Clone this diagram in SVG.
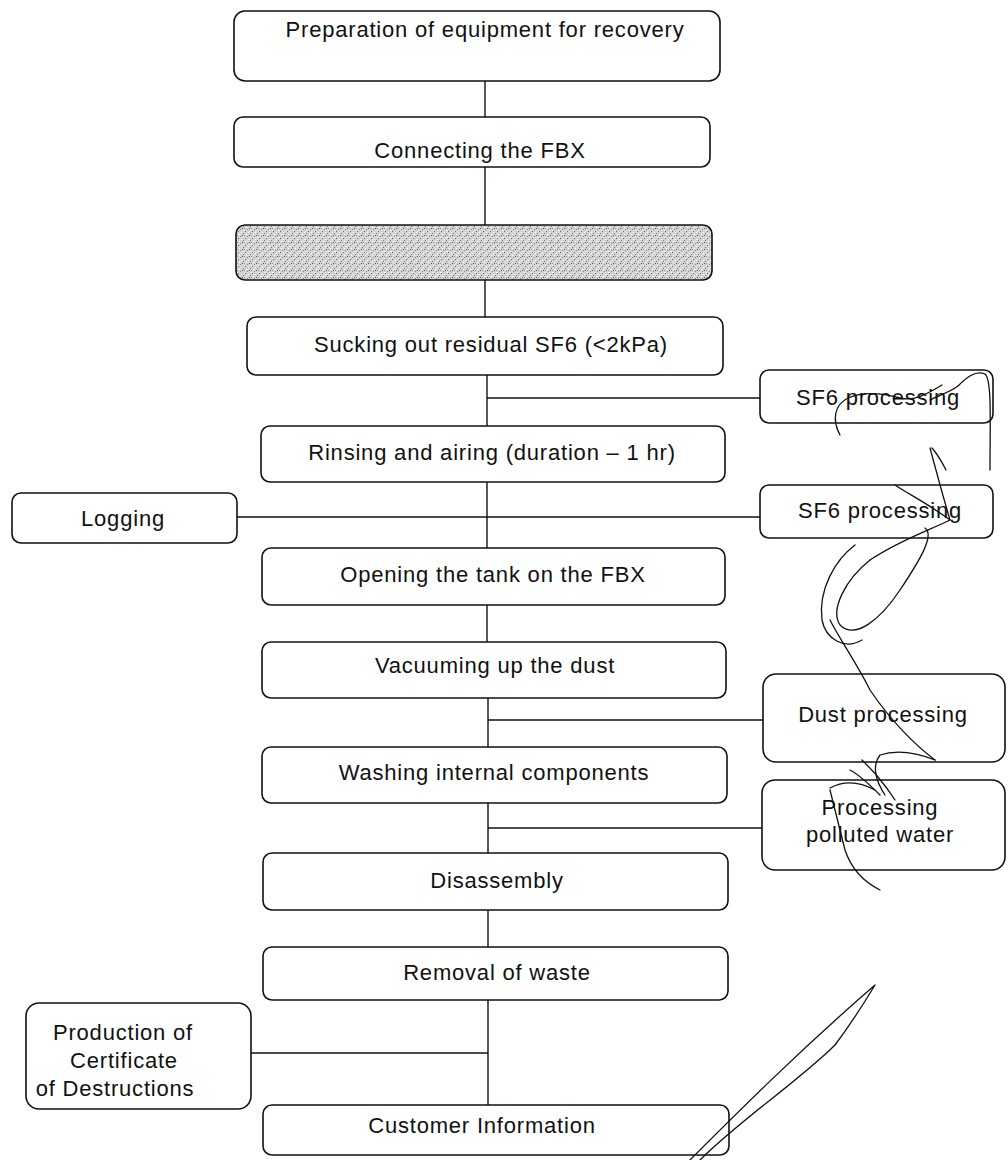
<svg xmlns="http://www.w3.org/2000/svg" width="1008" height="1160" viewBox="0 0 1008 1160">
<style>
.box{fill:#fff;stroke:#111;stroke-width:1.6}
.lbl{font-family:"Liberation Sans",Arial,sans-serif;font-size:22px;letter-spacing:0.8px;fill:#111;text-anchor:middle}
.conn line{stroke:#111;stroke-width:1.4}
.hw{fill:none;stroke:#111;stroke-width:1.3;stroke-linecap:round;stroke-linejoin:round}
</style>
<defs>
<pattern id="speck" width="7" height="7" patternUnits="userSpaceOnUse">
<rect width="7" height="7" fill="#d4d4d4"/>
<rect x="0" y="0" width="1" height="1" fill="#666"/>
<rect x="3" y="1" width="1" height="1" fill="#fff"/>
<rect x="5" y="2" width="1" height="1" fill="#777"/>
<rect x="1" y="3" width="1" height="1" fill="#fff"/>
<rect x="4" y="4" width="1" height="1" fill="#555"/>
<rect x="2" y="5" width="1" height="1" fill="#888"/>
<rect x="6" y="6" width="1" height="1" fill="#fff"/>
<rect x="6" y="4" width="1" height="1" fill="#999"/>
</pattern>
</defs>
<rect width="1008" height="1160" fill="#fff"/>

<g class="conn" id="connectors">
<line x1="485" y1="80" x2="485" y2="117"/>
<line x1="485" y1="167" x2="485" y2="225"/>
<line x1="485" y1="280" x2="485" y2="317"/>
<line x1="487" y1="375" x2="487" y2="426"/>
<line x1="487" y1="482" x2="487" y2="548"/>
<line x1="487" y1="605" x2="487" y2="642"/>
<line x1="488" y1="698" x2="488" y2="747"/>
<line x1="488" y1="803" x2="488" y2="853"/>
<line x1="488" y1="910" x2="488" y2="947"/>
<line x1="488" y1="1000" x2="488" y2="1105"/>
<line x1="487" y1="398" x2="760" y2="398"/>
<line x1="237" y1="517" x2="760" y2="517"/>
<line x1="488" y1="720" x2="763" y2="720"/>
<line x1="488" y1="828" x2="762" y2="828"/>
<line x1="251" y1="1053" x2="488" y2="1053"/>
</g>

<g id="n1"><rect class="box" x="234" y="11" width="486" height="70" rx="11"/><text class="lbl" x="485" y="37">Preparation of equipment for recovery</text></g>
<g id="n2"><rect class="box" x="234" y="117" width="476" height="50" rx="9"/><text class="lbl" x="480" y="158">Connecting the FBX</text></g>
<g id="n3"><rect x="236" y="225" width="476" height="55" rx="9" fill="url(#speck)" stroke="#111" stroke-width="1.6"/></g>
<g id="n4"><rect class="box" x="247" y="317" width="476" height="58" rx="9"/><text class="lbl" x="491" y="352">Sucking out residual SF6 (&lt;2kPa)</text></g>
<g id="n5"><rect class="box" x="261" y="426" width="464" height="56" rx="9"/><text class="lbl" x="492" y="460">Rinsing and airing (duration – 1 hr)</text></g>
<g id="n6"><rect class="box" x="262" y="548" width="463" height="57" rx="9"/><text class="lbl" x="493" y="582">Opening the tank on the FBX</text></g>
<g id="n7"><rect class="box" x="262" y="642" width="464" height="56" rx="9"/><text class="lbl" x="495" y="673">Vacuuming up the dust</text></g>
<g id="n8"><rect class="box" x="262" y="747" width="465" height="56" rx="9"/><text class="lbl" x="494" y="780">Washing internal components</text></g>
<g id="n9"><rect class="box" x="263" y="853" width="465" height="57" rx="9"/><text class="lbl" x="497" y="888">Disassembly</text></g>
<g id="n10"><rect class="box" x="263" y="947" width="465" height="53" rx="9"/><text class="lbl" x="497" y="980">Removal of waste</text></g>
<g id="n11"><rect class="box" x="263" y="1105" width="466" height="50" rx="9"/><text class="lbl" x="482" y="1133">Customer Information</text></g>

<g id="n12"><rect class="box" x="12" y="493" width="225" height="50" rx="9"/><text class="lbl" x="123" y="526">Logging</text></g>
<g id="n13"><rect class="box" x="760" y="370" width="233" height="53" rx="9"/><text class="lbl" x="878" y="405">SF6 processing</text></g>
<g id="n14"><rect class="box" x="760" y="485" width="233" height="53" rx="9"/><text class="lbl" x="880" y="518">SF6 processing</text></g>
<g id="n15"><rect class="box" x="763" y="674" width="242" height="88" rx="13"/><text class="lbl" x="883" y="722">Dust processing</text></g>
<g id="n16"><rect class="box" x="762" y="780" width="243" height="90" rx="13"/><text class="lbl" x="880" y="815">Processing</text><text class="lbl" x="880" y="842">polluted water</text></g>
<g id="n17"><rect class="box" x="26" y="1003" width="225" height="106" rx="13"/><text class="lbl" x="123" y="1040">Production of</text><text class="lbl" x="124" y="1068">Certificate</text><text class="lbl" x="115" y="1096">of Destructions</text></g>

<g id="handwriting" class="hw">
<path d="M840 435 C832 420 834 405 848 398 C862 392 878 392 900 398 C915 402 930 392 942 385"/>
<path d="M930 400 C940 395 950 392 958 386 C966 378 975 370 985 374 C992 380 990 420 990 470"/>
<path d="M932 448 C938 455 942 462 946 470 M930 448 C936 470 944 500 950 520"/>
<path d="M895 485 C910 495 930 505 950 520 C930 530 900 540 870 560"/>
<path d="M870 560 C845 580 830 610 840 625 C855 640 880 620 900 590 C920 560 935 535 925 528"/>
<path d="M855 545 C835 560 818 590 822 620 C826 640 845 650 862 640"/>
<path d="M830 620 C840 640 855 660 870 690 C890 720 915 745 935 760"/>
<path d="M935 760 C915 752 895 750 880 755 C872 765 875 780 885 795"/>
<path d="M862 760 C872 770 882 780 895 800 M850 770 C860 775 870 785 880 795"/>
<path d="M830 790 C835 810 840 830 845 850 C850 865 860 880 880 890"/>
<path d="M830 788 C845 780 860 782 875 790"/>
<path d="M690 1160 C740 1110 800 1050 875 985 C860 1010 850 1025 835 1045 C800 1080 740 1120 700 1160"/>
</g>
</svg>
